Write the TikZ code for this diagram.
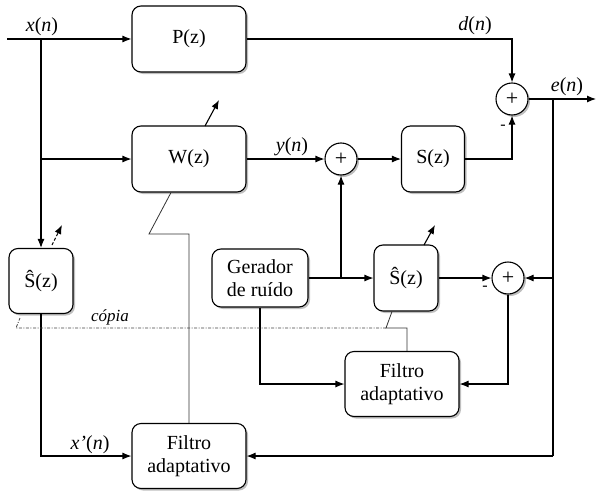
\documentclass[tikz,border=0pt]{standalone}
\usepackage{fontspec}
\setmainfont{Liberation Serif}
\newfontfamily\tms{Liberation Serif}
\usetikzlibrary{shadows,arrows.meta,calc}
\begin{document}
\begin{tikzpicture}[x=1pt,y=-1pt,
  font=\tms\fontsize{20}{23}\selectfont,
  blk/.style={draw, rounded corners=9pt, fill=white, line width=1.1pt, align=center, inner sep=0pt,
    drop shadow={shadow xshift=2pt, shadow yshift=-2pt, opacity=0.25, fill=black}},
  sumc/.style={draw, circle, minimum size=32pt, inner sep=0pt, fill=white, line width=1.1pt,
    font=\tms\fontsize{22}{22}\selectfont,
    drop shadow={shadow xshift=2pt, shadow yshift=-2pt, opacity=0.25, fill=black}},
  ln/.style={line width=1.1pt},
  thin line/.style={line width=0.8pt, black!80},
  arr/.style={ln, -{Latex[length=9pt,width=7pt]}},
  adapt/.style={line width=1.1pt, -{Latex[length=9pt,width=7pt]}},
  lbl/.style={inner sep=0pt},
  sgn/.style={inner sep=0pt, font=\tms\fontsize{16}{16}\selectfont}
]
\useasboundingbox (0,0) rectangle (596,495);

% blocks
\node[blk, minimum width=114pt, minimum height=66pt] (P) at (189,39) {P(z)};
\node[blk, minimum width=114pt, minimum height=66pt] (W) at (189,159) {W(z)};
\node[blk, minimum width=63pt, minimum height=66pt] (S) at (433,159) {S(z)};
\node[blk, minimum width=64pt, minimum height=65pt] (Sh1) at (41,281) {Ŝ(z)};
\node[blk, minimum width=96pt, minimum height=58pt] (G) at (260,278) {Gerador\\de ruído};
\node[blk, minimum width=64pt, minimum height=66pt] (Sh2) at (406,278) {Ŝ(z)};
\node[blk, minimum width=114pt, minimum height=65pt] (F2) at (402,384) {Filtro\\adaptativo};
\node[blk, minimum width=114pt, minimum height=65pt] (F1) at (189,456) {Filtro\\adaptativo};

\node[sumc] (s1) at (512,99) {+};
\node[sumc] (s2) at (341,159) {+};
\node[sumc] (s3) at (508,278) {+};

% coordinates
\coordinate (in) at (7,39);
\coordinate (j1) at (41,39);
\coordinate (j2) at (41,159);
\coordinate (out) at (596,99);
\coordinate (je) at (553,99);
\coordinate (je3) at (553,278);
\coordinate (je1) at (553,456);
\coordinate (jg) at (341,278);

% labels
\node[lbl] (lx) at (42,27) {\textit{x}(\textit{n})};
\node[lbl] (ld) at (475,26) {\textit{d}(\textit{n})};
\node[lbl] (le) at (567,87) {\textit{e}(\textit{n})};
\node[lbl] (ly) at (292,147) {\textit{y}(\textit{n})};
\node[lbl] (lxp) at (90,445) {\textit{x’}(\textit{n})};
\node[lbl, font=\tms\fontsize{17}{17}\selectfont] (lc) at (110,317) {\textit{cópia}};
\node[sgn] (m1) at (503,127) {-};
\node[sgn] (m3) at (485,288) {-};

% main connections
\draw[arr] (in) -- (P.west);
\draw[arr] (j1) -- (Sh1.north);
\draw[arr] (j2) -- (W.west);
\draw[arr] (P.east) -| (s1.north);
\draw[arr] (s1.east) -- (out);
\draw[ln] (je) -- (je1);
\draw[arr] (je1) -- (F1.east);
\draw[arr] (je3) -- (s3.east);
\draw[arr] (W.east) -- (s2.west);
\draw[arr] (s2.east) -- (S.west);
\draw[arr] (S.east) -| (s1.south);
\draw[arr] (G.east) -- (Sh2.west);
\draw[arr] (jg) -- (s2.south);
\draw[arr] (Sh2.east) -- (s3.west);
\draw[arr] (s3.south) |- (F2.east);
\draw[arr] (G.south) |- (F2.west);
\draw[arr] (Sh1.south) |- (F1.west);

% adaptation arrows
\draw[adapt] (205,126) -- (219,100);
\draw[adapt] (424,245) -- (435,225);
\draw[adapt, dashed, dash pattern=on 3pt off 2pt] (52,245) -- (62,225);

% adaptation lines
\draw[thin line] ($(W.south)+(-18,0)$) -- (149,234) -- (189,234) -- (F1.north);
\draw[thin line] ($(Sh2.south)+(-14,0)$) -- (386,328) -- (407,328) -- ($(F2.north)+(5,0)$);
\draw[line width=0.8pt, black!75, dash pattern=on 3pt off 1.5pt on 1pt off 1.5pt] (386,328) -- (16,328) -- (20,318);
\end{tikzpicture}
\end{document}
